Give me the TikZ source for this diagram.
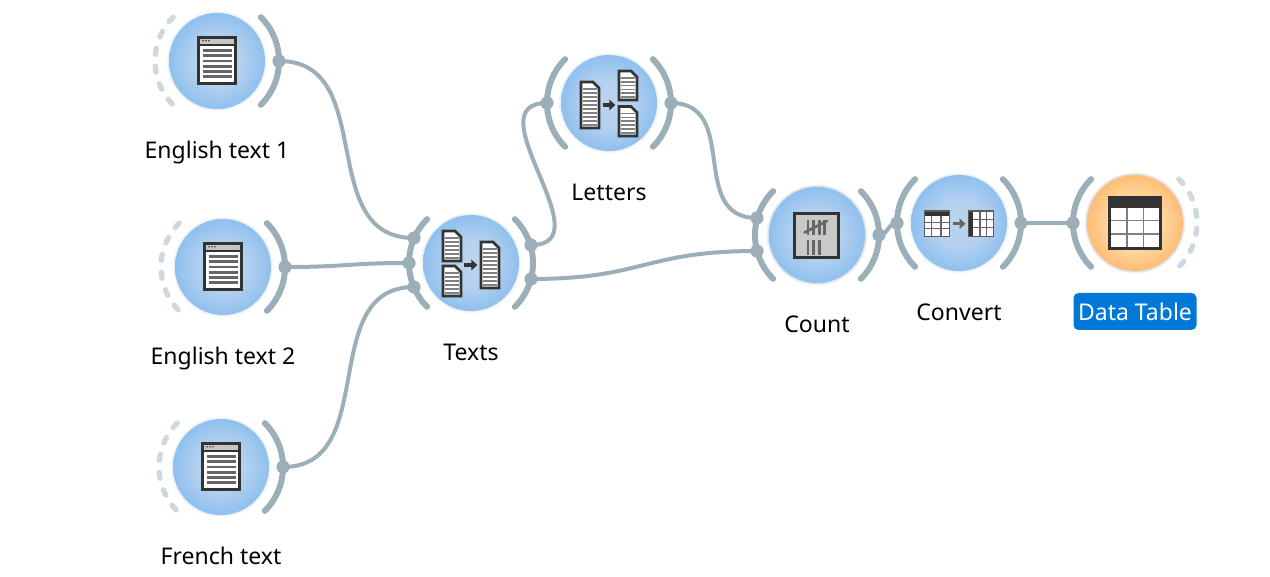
\documentclass[tikz,border=0pt]{standalone}
\usepackage{fontspec}
\setmainfont{Noto Sans}
\definecolor{wire}{HTML}{9CAEB8}
\definecolor{wiredash}{HTML}{CFD8DC}
\definecolor{ink}{HTML}{333333}
\definecolor{midgray}{HTML}{666666}
\definecolor{selblue}{HTML}{0078D7}
\definecolor{blueA}{HTML}{BDD5EE}
\definecolor{blueB}{HTML}{B2D0EF}
\definecolor{blueC}{HTML}{8FC0EE}
\definecolor{orA}{HTML}{FFE3B8}
\definecolor{orB}{HTML}{FFD9A4}
\definecolor{orC}{HTML}{FFBD75}
\pgfdeclareradialshading{bluedisc}{\pgfpoint{0bp}{0bp}}{color(0bp)=(blueA); color(13bp)=(blueB); color(25bp)=(blueC); color(50bp)=(blueC)}
\pgfdeclareradialshading{orangedisc}{\pgfpoint{0bp}{0bp}}{color(0bp)=(orA); color(13bp)=(orB); color(25bp)=(orC); color(50bp)=(orC)}
\newcommand{\pagefile}[5]{% x0 y0 x1 y1 nlines
  \path[fill=white,draw=ink,line width=2.8pt,line join=miter]
    (#1,#2) -- ({#3-6},#2) -- (#3,{#2+6}) -- (#3,#4) -- (#1,#4) -- cycle;
  \foreach \k in {1,...,#5}{
    \draw[gray,line width=1.6pt] ({#1+2},{#2+7+(\k-1)*((#4-#2-10)/(#5-1))}) -- ({#3-2},{#2+7+(\k-1)*((#4-#2-10)/(#5-1))});
  }
}
\newcommand{\smallarrow}[4]{% x0 x1 y colour
  \draw[#4,line width=3.4pt] (#1,#3) -- ({#2-4},#3);
  \fill[#4] ({#2-6},{#3-5.5}) -- (#2,#3) -- ({#2-6},{#3+5.5}) -- cycle;
}
\tikzset{
  disc/.style={circle,minimum size=96pt,inner sep=0pt,outer sep=0pt},
  bluenode/.style={disc,shading=bluedisc},
  orangenode/.style={disc,shading=orangedisc},
  caption/.style={font=\fontsize{23}{27}\selectfont,text=black,inner sep=0pt},
  selcaption/.style={caption,text=white,fill=selblue,rounded corners=5pt,minimum width=123pt,minimum height=37pt},
  linkwire/.style={draw=wire,line width=4pt},
  slotarc/.style={draw=wire,line width=6pt,line cap=round},
  slotdash/.style={draw=wiredash,line width=5.4pt,line cap=round,dash pattern=on 6pt off 12pt},
  dot/.style={fill=wire,draw=none},
  docicon/.pic={
    \fill[ink] (-20,-25) rectangle (20,24);
    \fill[white] (-17,-15) rectangle (17,21);
    \fill[gray!45] (-17,-22) rectangle (17,-17);
    \foreach \q in {-14,-11,-8}{\fill[ink] (\q,-20.2) circle (0.8);}
    \foreach \k in {-10.7,-5.4,-0.1,5.2,10.5,15.8}{\draw[midgray,line width=2.7pt] (-14.5,\k) -- (14.5,\k);}
  },
  mergeicon/.pic={
    \pagefile{-28}{-32}{-10}{-2}{6}
    \pagefile{-28}{3}{-10}{33}{6}
    \pagefile{10}{-21}{28}{25}{10}
    \smallarrow{-6.7}{6.3}{2}{ink}
  },
  spliticon/.pic={
    \pagefile{-28}{-21}{-10}{25}{10}
    \pagefile{10}{-32}{28}{-3}{6}
    \pagefile{10}{3.5}{28}{33}{6}
    \smallarrow{-6.3}{6.3}{2}{ink}
  },
  tallyicon/.pic={
    \fill[gray!42] (-23,-22) rectangle (22,23);
    \draw[ink,line width=2.8pt] (-22.5,-21.5) rectangle (21.5,22.5);
    \foreach \q in {-9,-3.3,2.3,7.7}{\draw[midgray,line width=2.6pt] (\q,-15) -- (\q,0);}
    \draw[midgray,line width=2.6pt,line cap=round] (-12.5,-2.5) -- (10,-14);
    \foreach \q in {-9,-3.3,2.3}{\draw[midgray,line width=2.6pt] (\q,5) -- (\q,20);}
  },
  tableA/.pic={
    \fill[white] (-12.7,-12.7) rectangle (12.7,12.7);
    \fill[ink] (-12.7,-12.7) rectangle (12.7,-8);
    \foreach \q in {-5.3,4}{\draw[midgray,line width=1.1pt] (\q,-8) -- (\q,12.7);}
    \foreach \q in {-1.5,5}{\draw[midgray,line width=1.1pt] (-12.7,\q) -- (12.7,\q);}
    \draw[ink!80,line width=1.3pt] (-12.7,-12.7) rectangle (12.7,12.7);
  },
  tableB/.pic={
    \fill[white] (-12.7,-12.7) rectangle (12.7,12.7);
    \fill[ink] (-12.7,-12.7) rectangle (-8,12.7);
    \foreach \q in {-1,5.7}{\draw[midgray,line width=1.1pt] (\q,-12.7) -- (\q,12.7);}
    \foreach \q in {-4.5,4}{\draw[midgray,line width=1.1pt] (-8,\q) -- (12.7,\q);}
    \draw[ink!80,line width=1.3pt] (-12.7,-12.7) rectangle (12.7,12.7);
  },
  bigtable/.pic={
    \fill[ink] (-27,-27) rectangle (27,27);
    \fill[white] (-24,-15) rectangle (24,24);
    \foreach \q in {-8.3,8.3}{\draw[gray,line width=1.6pt] (\q,-15) -- (\q,24);}
    \foreach \q in {-2.3,11}{\draw[gray,line width=1.6pt] (-24,\q) -- (24,\q);}
  },
}
\newcommand{\halodisc}[3]{\fill[#3!35!white] (#1,#2) circle (50.5);\fill[#3!70!white] (#1,#2) circle (49.5);\fill[#3] (#1,#2) circle (48.7);}
\definecolor{haloblue}{HTML}{EBF0F5}
\definecolor{halogray}{HTML}{D8DDE2}
\begin{document}
\begin{tikzpicture}[x=1pt,y=-1pt]
\useasboundingbox (0,0) rectangle (1270,577);
% slot anchors
\coordinate (e1out) at (279,61);
\coordinate (e2out) at (285,267);
\coordinate (frout) at (283,467);
\coordinate (txA) at (414,238);
\coordinate (txB) at (409,263);
\coordinate (txC) at (414,287);
\coordinate (txO1) at (531,245);
\coordinate (txO2) at (531,279);
\coordinate (ltIn) at (547,103);
\coordinate (ltOut) at (671,103);
\coordinate (ctA) at (757,218);
\coordinate (ctB) at (757,251);
\coordinate (ctOut) at (879,235);
\coordinate (cvIn) at (897,223);
\coordinate (cvOut) at (1021,223);
\coordinate (dtIn) at (1073,223);
% connectors
\draw[linkwire] (e1out) .. controls +(100,0) and +(-100,0) .. (txA);
\draw[linkwire] (e2out) .. controls +(62,0) and +(-62,0) .. (txB);
\draw[linkwire] (frout) .. controls +(98,0) and +(-98,0) .. (txC);
\draw[linkwire] (txO1) .. controls +(75,0) and +(-75,0) .. (ltIn);
\draw[linkwire] (txO2) .. controls +(113,0) and +(-113,0) .. (ctB);
\draw[linkwire] (ltOut) .. controls +(70,0) and +(-70,0) .. (ctA);
\draw[linkwire] (ctOut) .. controls +(9,0) and +(-9,0) .. (cvIn);
\draw[linkwire] (cvOut) -- (dtIn);
% arcs
\foreach \cx/\cy in {217/61,223/267,221/467}{
  \draw[slotarc] ({\cx+62*cos(45)},{\cy-62*sin(45)}) arc[start angle=45,end angle=-45,radius=62,y radius=-62];
  \draw[slotdash] ({\cx-62*cos(45)},{\cy-62*sin(45)}) arc[start angle=135,end angle=225,radius=62,y radius=-62];
}
\foreach \cx/\cy in {471/263,609/103,817/235,959/223}{
  \draw[slotarc] ({\cx+62*cos(45)},{\cy-62*sin(45)}) arc[start angle=45,end angle=-45,radius=62,y radius=-62];
  \draw[slotarc] ({\cx-62*cos(45)},{\cy-62*sin(45)}) arc[start angle=135,end angle=225,radius=62,y radius=-62];
}
\draw[slotarc] ({1135-62*cos(45)},{223-62*sin(45)}) arc[start angle=135,end angle=225,radius=62,y radius=-62];
\draw[slotdash] ({1135+62*cos(45)},{223-62*sin(45)}) arc[start angle=45,end angle=-45,radius=62,y radius=-62];
% dots
\foreach \p in {e1out,e2out,frout,txA,txB,txC,txO1,txO2,ltIn,ltOut,ctA,ctB,ctOut,cvIn,cvOut,dtIn}{
  \fill[dot] (\p) circle (6.6);
}
% halos and discs
\foreach \cx/\cy in {217/61,223/267,221/467,471/263,609/103,959/223}{\halodisc{\cx}{\cy}{haloblue}}
\halodisc{817}{235}{halogray}
\halodisc{1135}{223}{halogray}
\node[bluenode] (english1) at (217,61) {};
\node[bluenode] (english2) at (223,267) {};
\node[bluenode] (french) at (221,467) {};
\node[bluenode] (texts) at (471,263) {};
\node[bluenode] (letters) at (609,103) {};
\node[bluenode] (count) at (817,235) {};
\node[bluenode] (convert) at (959,223) {};
\node[orangenode] (table) at (1135,223) {};
% icons
\pic at (english1) {docicon};
\pic at (english2) {docicon};
\pic at (french) {docicon};
\pic at (texts) {mergeicon};
\pic at (letters) {spliticon};
\pic at (count) {tallyicon};
\pic at (937,223.7) {tableA};
\pic at (981,223.7) {tableB};
\smallarrow{952.7}{965.5}{223.7}{midgray}
\pic at (1135,223) {bigtable};
% labels
\node[caption] (l1) at (217,153) {English text 1};
\node[caption] (l2) at (223,359) {English text 2};
\node[caption] (l3) at (221,556) {French text};
\node[caption] (l4) at (471,352) {Texts};
\node[caption] (l5) at (609,192) {Letters};
\node[caption] (l6) at (817,324) {Count};
\node[caption] (l7) at (959,312) {Convert};
\node[selcaption] (l8) at (1135,311.5) {Data Table};
\end{tikzpicture}
\end{document}
